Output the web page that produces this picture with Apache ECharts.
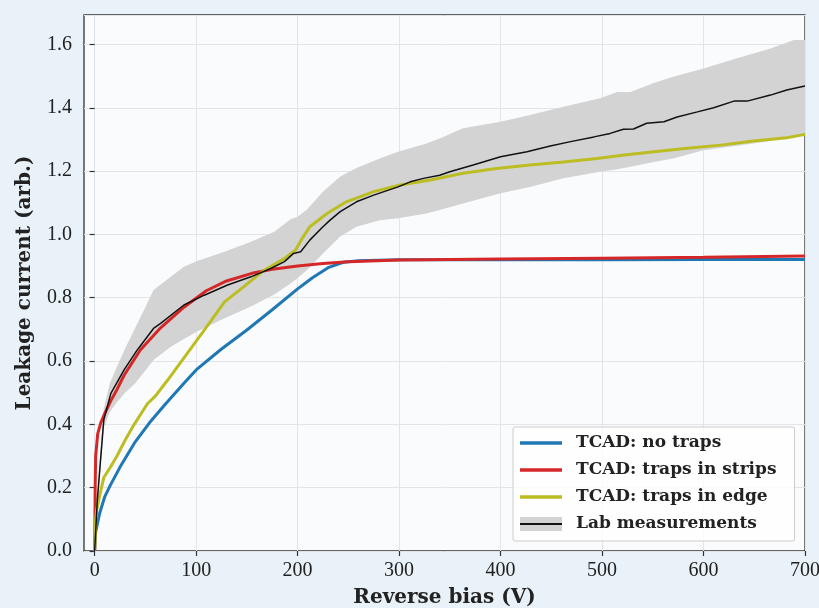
<!doctype html>
<html>
<head>
<meta charset="UTF-8">
<title>Leakage current vs reverse bias</title>
<script src="https://cdn.jsdelivr.net/npm/echarts@6/dist/echarts.min.js"></script>
<style>
  html, body { margin: 0; padding: 0; background: #e8f2f8; }
  #main { width: 819px; height: 608px; }
</style>
</head>
<body>
<div id="main"></div>
<script>
// values, [bias V, current arb.]
var noTraps = [[0,0],[1,0.06],[2,0.075],[5,0.12],[10,0.172],[15,0.205],[25,0.265],[40,0.345],[54,0.405],[70,0.465],[88,0.53],[100,0.572],[125,0.638],[150,0.698],[175,0.762],[200,0.828],[215,0.864],[230,0.895],[245,0.912],[260,0.917],[300,0.92],[400,0.92],[500,0.92],[600,0.921],[700,0.921]];
var trapsStrips = [[0,0],[0.3,0.1],[0.5,0.2],[1,0.3],[3,0.37],[6,0.405],[10,0.435],[16,0.475],[22,0.51],[29,0.555],[45,0.635],[65,0.705],[88,0.77],[110,0.822],[130,0.853],[155,0.877],[175,0.89],[200,0.9],[225,0.908],[250,0.914],[300,0.919],[400,0.922],[500,0.925],[600,0.928],[700,0.932]];
var trapsEdge = [[0,0],[0.5,0.05],[1,0.1],[2,0.13],[3.6,0.155],[6,0.19],[9,0.232],[15,0.262],[22,0.3],[30,0.35],[39,0.4],[52,0.465],[60,0.49],[72,0.54],[88,0.61],[108,0.698],[128,0.787],[147,0.835],[167,0.887],[187,0.924],[198,0.951],[205,0.99],[212,1.024],[229,1.066],[248,1.103],[275,1.135],[301,1.156],[331,1.172],[363,1.193],[396,1.208],[429,1.219],[462,1.229],[495,1.24],[520,1.25],[551,1.261],[584,1.272],[617,1.282],[649,1.295],[682,1.305],[700,1.316]];
var labMean = [[0,0],[2.6,0.16],[9,0.414],[16,0.498],[29,0.572],[42,0.635],[58,0.703],[65,0.719],[88,0.777],[108,0.808],[131,0.84],[154,0.866],[174,0.893],[187,0.914],[196,0.94],[203,0.945],[212,0.982],[225,1.024],[232,1.045],[242,1.072],[258,1.103],[275,1.124],[299,1.15],[311,1.166],[324,1.177],[340,1.187],[350,1.198],[373,1.219],[400,1.245],[426,1.261],[449,1.279],[469,1.293],[492,1.308],[508,1.319],[521,1.332],[531,1.333],[544,1.351],[561,1.356],[574,1.371],[594,1.387],[610,1.4],[630,1.421],[643,1.421],[666,1.44],[682,1.456],[700,1.469]];
var bandV    = [0,3,9,15,22,30,40,50,58,75,88,101,128,154,177,193,200,209,225,242,258,281,299,327,340,363,400,429,462,498,515,528,551,570,600,633,666,689,700];
var bandLow  = [0,0.15,0.39,0.44,0.47,0.5,0.53,0.57,0.603,0.645,0.67,0.693,0.735,0.772,0.81,0.845,0.862,0.887,0.94,0.993,1.024,1.045,1.051,1.066,1.077,1.098,1.13,1.15,1.177,1.198,1.206,1.214,1.229,1.24,1.266,1.28,1.295,1.31,1.319];
var bandHigh = [0,0.2,0.45,0.53,0.582,0.64,0.705,0.77,0.824,0.866,0.898,0.916,0.945,0.977,1.008,1.048,1.056,1.078,1.135,1.183,1.21,1.24,1.261,1.287,1.303,1.335,1.356,1.377,1.403,1.43,1.45,1.45,1.478,1.498,1.524,1.556,1.587,1.614,1.614];
var seriesNames = ['TCAD: no traps', 'TCAD: traps in strips', 'TCAD: traps in edge', 'Lab measurements'];
var seriesColors = ['#1f77b4', '#d62728', '#bcbd22', '#111111'];

var serif = 'Liberation Serif';
var boldSerif = 'DejaVu Serif';

// legend icons drawn as small svg pictures
function svgIcon(inner) {
  return 'image://data:image/svg+xml;charset=utf-8,' + encodeURIComponent(
    "<svg xmlns='http://www.w3.org/2000/svg' width='42' height='14'>" + inner + "</svg>");
}
function lineIcon(color) {
  return svgIcon("<rect y='5.25' width='42' height='3.5' fill='" + color + "'/>");
}
var labIcon = svgIcon("<rect width='42' height='14' fill='#d3d3d3'/><rect y='6' width='42' height='2' fill='#111'/>");

function lineSeries(i, data, width) {
  return {
    name: seriesNames[i], type: 'line', data: data, symbol: 'none', showSymbol: false, smooth: false,
    lineStyle: { color: seriesColors[i], width: width }, itemStyle: { color: seriesColors[i] }
  };
}

var myChart = echarts.init(document.getElementById('main'));
var option = {
  animation: false,
  backgroundColor: '#e8f2f8',
  grid: [
    { left: 84, right: 14, top: 15, bottom: 57, outerBoundsMode: 'none', containLabel: false,
      show: true, backgroundColor: '#fafbfd', borderColor: '#333', borderWidth: 1.3 },
    { left: 94.66, right: 14, top: 15, bottom: 57, outerBoundsMode: 'none', containLabel: false }
  ],
  xAxis: [
    {
      type: 'value', gridIndex: 0, min: -10.5, max: 700,
      name: 'Reverse bias (V)', nameLocation: 'middle', nameGap: 37,
      nameTextStyle: { fontFamily: boldSerif, fontWeight: 'bold', fontSize: 20, color: '#222' },
      axisLine: { show: false }, axisTick: { show: false }, axisLabel: { show: false }, splitLine: { show: false }
    },
    {
      type: 'value', gridIndex: 1, min: 0, max: 700, interval: 100,
      axisLine: { show: false },
      axisTick: { show: true, length: 5, lineStyle: { color: '#333', width: 1.2 } },
      axisLabel: { margin: 10, fontFamily: serif, fontSize: 20, color: '#222' },
      splitLine: { show: true, lineStyle: { color: '#e2e4e8', width: 1 } }
    }
  ],
  yAxis: [
    {
      type: 'value', gridIndex: 0, min: 0, max: 1.693, interval: 0.2,
      name: 'Leakage current (arb.)', nameLocation: 'middle', nameGap: 49, nameRotate: 90,
      nameTextStyle: { fontFamily: boldSerif, fontWeight: 'bold', fontSize: 20, color: '#222' },
      axisLine: { show: false },
      axisTick: { show: true, length: 5, lineStyle: { color: '#333', width: 1.2 } },
      axisLabel: { margin: 12, fontFamily: serif, fontSize: 20, color: '#222', showMaxLabel: false,
        formatter: function (v) { return v.toFixed(1); } },
      splitLine: { show: true, lineStyle: { color: '#e2e4e8', width: 1 } }
    },
    { type: 'value', gridIndex: 1, min: 0, max: 1, show: false }
  ],
  legend: {
    orient: 'vertical', left: 513, top: 427,
    backgroundColor: 'rgba(255,255,255,0.8)', borderColor: '#cccccc', borderWidth: 1, borderRadius: 2,
    padding: [6, 18, 7, 7], itemGap: 7, itemWidth: 42, itemHeight: 14,
    textStyle: { fontFamily: boldSerif, fontWeight: 'bold', fontSize: 17, color: '#222', lineHeight: 20, padding: [0, 0, 0, 9] },
    data: [
      { name: seriesNames[0], icon: lineIcon(seriesColors[0]) },
      { name: seriesNames[1], icon: lineIcon(seriesColors[1]) },
      { name: seriesNames[2], icon: lineIcon(seriesColors[2]) },
      { name: seriesNames[3], icon: labIcon }
    ]
  },
  series: [
    {
      name: 'band', type: 'custom', silent: true, z: 1,
      data: bandV.map(function (v, i) { return [v, bandLow[i], bandHigh[i]]; }),
      encode: { x: 0, y: [1, 2] },
      renderItem: function (params, api) {
        if (params.dataIndex !== 0) return null;
        var pts = [];
        for (var i = 0; i < bandV.length; i++) pts.push(api.coord([bandV[i], bandHigh[i]]));
        for (var j = bandV.length - 1; j >= 0; j--) pts.push(api.coord([bandV[j], bandLow[j]]));
        return { type: 'polygon', shape: { points: pts }, style: { fill: '#d3d3d3' } };
      }
    },
    lineSeries(0, noTraps, 3),
    lineSeries(1, trapsStrips, 3),
    lineSeries(2, trapsEdge, 3),
    lineSeries(3, labMean, 1.5)
  ]
};
myChart.setOption(option);
</script>
</body>
</html>
